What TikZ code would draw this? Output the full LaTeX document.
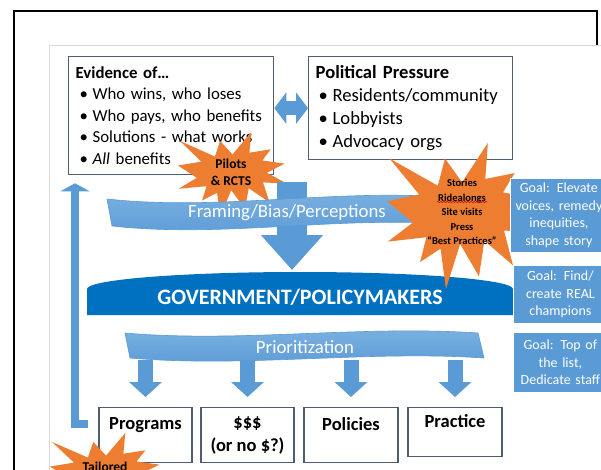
\documentclass[tikz,border=0pt]{standalone}
\usepackage{fontspec}
\setmainfont{Carlito}
\usetikzlibrary{arrows.meta, decorations.pathmorphing}

\definecolor{slate}{HTML}{4F5D73}
\definecolor{lblue}{HTML}{5B9BD5}
\definecolor{ltop}{HTML}{7DB2E2}
\definecolor{dblue}{HTML}{0070C0}
\definecolor{burstor}{HTML}{ED7D31}
\definecolor{panelgray}{HTML}{D9D9D9}

\newcommand{\evbul}[1]{\hspace*{4pt}\makebox[13pt][l]{\textbullet}\mbox{#1}}
\newcommand{\polbul}[1]{\hspace*{3pt}\makebox[14pt][l]{\textbullet}\mbox{#1}}

\tikzset{x=1pt, y=-1pt,
    infobox/.style={draw=slate, line width=1.3pt, fill=white, align=left,
        inner xsep=7pt, anchor=north west},
    outbox/.style={draw=slate, line width=1.3pt, fill=white, align=center,
        anchor=north, minimum height=55pt,
        font=\fontsize{18.5}{23}\selectfont\bfseries},
    goalbox/.style={fill=lblue, draw=white, line width=0.8pt, text=white,
        align=center, anchor=north west, inner xsep=4pt,
        font=\fontsize{14}{17.5}\selectfont},
    bannertext/.style={text=white, font=\fontsize{18.8}{22}\selectfont},
    banner/.style={top color=ltop, bottom color=lblue, draw=lblue, line width=0.6pt},
    bursttext/.style={align=center, inner sep=0pt},
    flow/.style={lblue, line width=15pt, -{Triangle[width=32pt,length=15pt]},
        shorten <=3pt, shorten >=10pt},
    burst/.pic={
        \fill[burstor] (50,26.85) -- (67.23,0) -- (65.53,24.65) -- (85.09,20.63)
            -- (77.32,33.87) -- (97.67,37.67) -- (81.51,48.5) -- (100,61.53)
            -- (77.95,59.92) -- (84,83.77) -- (64.91,66.93) -- (61.33,91.38)
            -- (48.76,69.14) -- (39.28,100) -- (35.72,72.35) -- (22.05,81.56)
            -- (26.24,64.52) -- (0.63,67.53) -- (17.23,54.51) -- (0,39.88)
            -- (21.42,35.26) -- (1.71,10.63) -- (33.85,29.26) -- (38.67,10.63) -- cycle;
    }}

\begin{document}
\begin{tikzpicture}
\useasboundingbox (0,0) rectangle (601,470);
\clip (0,0) rectangle (601,470);

% slide frame and panel
\draw[line width=1.5pt] (14,490) -- (14,11) -- (597,11) -- (597,60);
\filldraw[fill=white, draw=panelgray, line width=0.8pt] (49,45) rectangle (620,490);

% evidence and pressure
\node[infobox, text width=191pt, minimum height=118pt,
      font=\fontsize{16.8}{21.5}\selectfont] (ev) at (68,56)
    {\textbf{Evidence of…}\\
     \evbul{Who wins, who loses}\\
     \evbul{Who pays, who benefits}\\
     \evbul{Solutions - what works}\\
     \evbul{\textit{All} benefits}};
\node[infobox, text width=190pt, minimum height=103pt,
      font=\fontsize{18.6}{23}\selectfont] (pol) at (308,56)
    {\textbf{Political Pressure}\\
     \polbul{Residents/community}\\
     \polbul{Lobbyists}\\
     \polbul{Advocacy orgs}};
\draw[lblue, line width=14pt,
      {Triangle[width=31pt,length=12pt]}-{Triangle[width=31pt,length=12pt]}]
    (ev.east |- pol.west) -- (pol.west);

% outputs
\node[outbox, minimum width=93pt] (prog) at (145.5,407) {Programs\\\mbox{}};
\node[outbox, minimum width=93pt] (cash) at (247.5,407) {\$\$\$\\(or no \$?)};
\node[outbox, minimum width=94pt] (pols) at (351,407) {Policies\\\mbox{}};
\node[outbox, minimum width=94pt, minimum height=49pt] (prac) at (455,407) {Practice\\\mbox{}};

% feedback loop back to evidence
\draw[lblue, line width=8pt, line join=miter, -{Triangle[width=29pt,length=8pt]}]
    ([xshift=-10pt,yshift=11.5pt]prog.west) -| ([xshift=7pt,yshift=-8pt]ev.south west);

\pic[shift={(178,132)}, xscale=1.09, yscale=0.84] {burst};
\node[bursttext, font=\fontsize{13.5}{17}\selectfont\bfseries] (pilots) at (231,172)
    {Pilots\\\& RCTS};

% framing
\coordinate (ftop) at (292,182);
\coordinate (ftip) at (292,270);
\draw[lblue, line width=30pt, -{Triangle[width=60pt,length=35pt]}] (ftop) -- (ftip);
\path[banner] (107,199) .. controls (225,212) and (345,186) .. (466,199)
    -- (471,226) .. controls (350,213) and (230,239) .. (112,226) -- cycle;
\node[bannertext] (frame) at (287,213) {Framing/Bias/Perceptions};

\fill[dblue] (87,315) -- (87,289) .. controls (87,279.6) and (182.4,272) .. (300,272)
    .. controls (417.6,272) and (513,279.6) .. (513,289) -- (513,315) -- cycle;
\node[text=white, font=\fontsize{22}{26}\selectfont\bfseries] (gov) at (300,297)
    {GOVERNMENT/POLICYMAKERS};

\pic[shift={(387,143)}, xscale=1.50, yscale=1.46] {burst};
\node[bursttext, font=\fontsize{10.5}{14.5}\selectfont\bfseries] (stories) at (462,212)
    {Stories\\Ridealongs\\Site visits\\Press\\“Best Practices”};
\draw[red!85!black, line width=0.5pt, decorate,
      decoration={snake, amplitude=0.7pt, segment length=3pt}]
    ([xshift=-25pt,yshift=10pt]stories.center) -- ++(50,0);

% goals
\node[goalbox, text width=89pt, minimum height=74pt] (g1) at (510,178)
    {Goal: Elevate\\voices, remedy\\inequities,\\shape story};
\node[goalbox, text width=86pt, minimum height=58pt] (g2) at (513,265)
    {Goal: Find/\\create REAL\\champions};
\node[goalbox, text width=86pt, minimum height=60pt] (g3) at (513,332)
    {Goal: Top of\\the list,\\Dedicate staff};

% prioritization
\path[banner] (125,333) .. controls (240,343) and (360,325) .. (478,333)
    -- (484,358) .. controls (367,350) and (247,368) .. (130,358) -- cycle;
\node[bannertext] (prio) at (305,347) {Prioritization};
\foreach \b in {prog,cash,pols,prac}
    \draw[flow] (prio.south -| \b.north) -- (\b.north);

\pic[shift={(50,433)}, xscale=1.12, yscale=0.84] {burst};
\node[bursttext, font=\fontsize{13.5}{17}\selectfont\bfseries] (tail) at (105,467)
    {Tailored};
\end{tikzpicture}
\end{document}
